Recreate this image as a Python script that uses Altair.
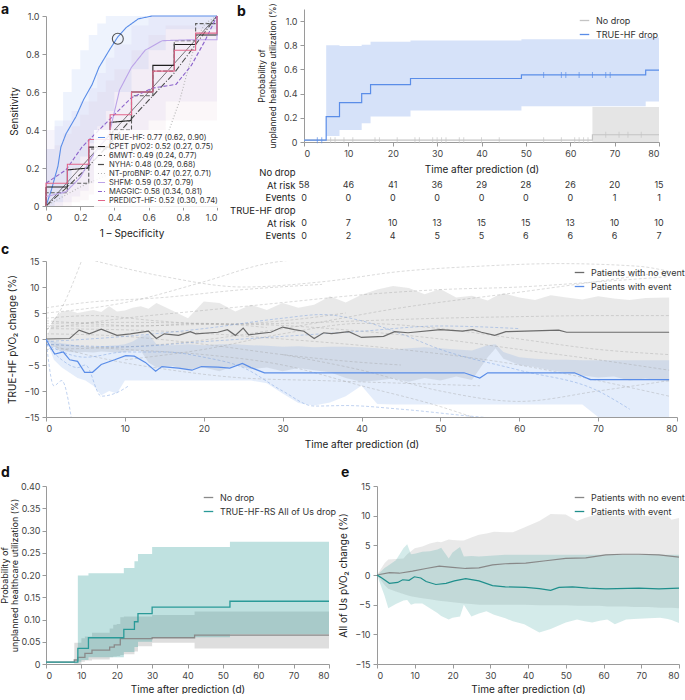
import altair as alt
import pandas as pd

FONT = "Inter"
INK = "#333333"
BLUE = "#5a8de8"
TEAL = "#2a9a98"

# ---------------- a: ROC curves ----------------
roc_names = ["TRUE-HF", "CPET pVO2", "6MWT", "NYHA", "NT-proBNP", "SHFM", "MAGGIC", "PREDICT-HF"]
roc_auc = [0.77, 0.52, 0.49, 0.48, 0.47, 0.59, 0.58, 0.52]
roc_lo = [0.62, 0.27, 0.24, 0.29, 0.27, 0.37, 0.34, 0.30]
roc_hi = [0.90, 0.75, 0.77, 0.68, 0.71, 0.79, 0.81, 0.74]
roc_colors = ["#5a8de8", "#1f1f1f", "#5c5c5c", "#4a4a4a", "#b4b4b4", "#bba3e8", "#8c64cc", "#e2668a"]
roc_dashes = [[1, 0], [1, 0], [4, 2], [6, 2, 1, 2], [1, 2], [1, 0], [4, 2], [1, 0]]

fpr_truehf = [0, 0.03, 0.07, 0.087, 0.117, 0.175, 0.22, 0.27, 0.31, 0.37, 0.42, 0.47, 0.54, 0.62, 1.0]
tpr_truehf = [0, 0.08, 0.21, 0.31, 0.38, 0.47, 0.56, 0.64, 0.73, 0.82, 0.89, 0.94, 0.985, 1.0, 1.0]
fpr_cpet = [0, 0, 0.125, 0.125, 0.25, 0.25, 0.375, 0.375, 0.5, 0.5, 0.625, 0.625, 0.75, 0.75, 0.875, 0.875, 1, 1]
tpr_cpet = [0, 0.10, 0.10, 0.19, 0.20, 0.31, 0.31, 0.44, 0.45, 0.60, 0.60, 0.74, 0.74, 0.85, 0.85, 0.90, 0.90, 1.0]
fpr_6mwt = [0, 0, 0.125, 0.125, 0.25, 0.25, 0.39, 0.39, 0.5, 0.5, 0.625, 0.625, 0.75, 0.75, 0.875, 0.875, 1, 1]
tpr_6mwt = [0, 0.07, 0.07, 0.12, 0.12, 0.30, 0.30, 0.40, 0.40, 0.58, 0.58, 0.71, 0.71, 0.87, 0.87, 0.96, 0.96, 1.0]
fpr_nyha = [0, 0.125, 0.25, 0.375, 0.5, 0.625, 0.75, 0.875, 1]
tpr_nyha = [0, 0.10, 0.21, 0.33, 0.46, 0.58, 0.70, 0.85, 1.0]
fpr_ntprobnp = [0, 0.2, 0.4, 0.55, 0.65, 0.72, 0.78, 0.84, 0.88, 0.93, 1]
tpr_ntprobnp = [0, 0.10, 0.18, 0.25, 0.30, 0.40, 0.55, 0.75, 0.88, 0.96, 1]
fpr_shfm = [0, 0.05, 0.117, 0.2, 0.27, 0.37, 0.43, 0.5, 0.58, 0.68, 0.85, 1.0, 1.0]
tpr_shfm = [0.05, 0.06, 0.075, 0.15, 0.26, 0.38, 0.61, 0.73, 0.82, 0.87, 0.875, 0.875, 1.0]
fpr_maggic = [0, 0.117, 0.21, 0.31, 0.41, 0.5, 0.62, 0.76, 0.85, 0.93, 1.0]
tpr_maggic = [0.12, 0.19, 0.31, 0.40, 0.49, 0.57, 0.62, 0.64, 0.74, 0.87, 1.0]
fpr_predict = [0, 0, 0.125, 0.125, 0.25, 0.25, 0.375, 0.375, 0.5, 0.5, 0.625, 0.625, 0.75, 0.75, 0.875, 0.875, 1, 1]
tpr_predict = [0, 0.12, 0.12, 0.22, 0.22, 0.35, 0.35, 0.48, 0.48, 0.60, 0.60, 0.71, 0.71, 0.82, 0.82, 0.91, 0.91, 1.0]

roc_fpr = [fpr_truehf, fpr_cpet, fpr_6mwt, fpr_nyha, fpr_ntprobnp, fpr_shfm, fpr_maggic, fpr_predict]
roc_tpr = [tpr_truehf, tpr_cpet, tpr_6mwt, tpr_nyha, tpr_ntprobnp, tpr_shfm, tpr_maggic, tpr_predict]

# confidence bands behind the curves
band_x = [0, 0.05, 0.1, 0.15, 0.2, 0.25, 0.3, 0.35, 0.4, 0.5, 0.6, 0.7, 1.0]
band_truehf_lo = [0, 0.02, 0.10, 0.20, 0.26, 0.33, 0.42, 0.50, 0.60, 0.72, 0.82, 0.93, 1.0]
band_truehf_hi = [0.30, 0.45, 0.60, 0.72, 0.82, 0.90, 0.96, 1.0, 1.0, 1.0, 1.0, 1.0, 1.0]
band_purple_lo = [0, 0.0, 0.02, 0.05, 0.08, 0.12, 0.15, 0.2, 0.25, 0.35, 0.45, 0.55, 1.0]
band_purple_hi = [0.40, 0.42, 0.45, 0.50, 0.55, 0.62, 0.70, 0.78, 0.85, 0.95, 1.0, 1.0, 1.0]
band_pink_lo = [0, 0, 0, 0.02, 0.03, 0.06, 0.10, 0.12, 0.15, 0.25, 0.35, 0.45, 1.0]
band_pink_hi = [0.30, 0.32, 0.38, 0.42, 0.48, 0.55, 0.60, 0.66, 0.72, 0.82, 0.90, 0.95, 1.0]

# ---------------- b: Kaplan-Meier, TRUE-HF ----------------
b_drop_t = [0, 5, 8, 13, 15, 24, 49, 77, 80]
b_drop_p = [0.015, 0.21, 0.325, 0.40, 0.475, 0.525, 0.555, 0.595, 0.595]
b_drop_band_t = [5, 8, 13, 15, 24, 49, 77, 80]
b_drop_band_lo = [0.05, 0.10, 0.155, 0.21, 0.26, 0.295, 0.335, 0.335]
b_drop_band_hi = [0.80, 0.795, 0.805, 0.83, 0.84, 0.85, 0.865, 0.865]
b_nodrop_t = [0, 65, 80]
b_nodrop_p = [0.015, 0.06, 0.06]
b_nodrop_band_t = [65, 80]
b_nodrop_band_lo = [0.0, 0.0]
b_nodrop_band_hi = [0.29, 0.29]
b_drop_censor = [3, 4, 54, 58, 59, 62, 65, 68, 69]
b_nodrop_censor_low = [6, 7, 9, 11, 16, 17, 21, 25, 26, 29, 30, 31, 32, 35, 36, 40, 44, 54, 58, 61, 62, 63, 64]
b_nodrop_censor_high = [68, 71, 73, 76]

risk_days = [0, 10, 20, 30, 40, 50, 60, 70, 80]
nodrop_at_risk = [58, 46, 41, 36, 29, 28, 26, 20, 15]
nodrop_events = [0, 0, 0, 0, 0, 0, 0, 1, 1]
drop_at_risk = [0, 7, 10, 13, 15, 15, 13, 10, 10]
drop_events = [0, 2, 4, 5, 5, 6, 6, 6, 7]
risk_rows = ["No drop", "At risk", "Events", "TRUE-HF drop", "At risk ", "Events "]

# ---------------- c: TRUE-HF pVO2 change ----------------
c_noevent_day = [0, 3, 4.2, 5.5, 7, 9, 10.7, 13, 14, 15, 16.8, 18.3, 19, 21.8, 23, 24, 25, 25.7, 28.5, 30,
                 31.5, 32.7, 34, 35.2, 36.2, 38.4, 40, 42.8, 44.2, 45.9, 50, 52.8, 54.1, 55.2, 56.9, 58.3,
                 65, 66, 79]
c_noevent_mean = [0, 0.1, 1.7, 1.0, 1.9, 0.7, 1.0, 1.5, 0.1, 1.0, 0.7, 1.4, 1.0, 1.3, 1.8, 0.7, 2.1, 0.8, 1.3,
                  2.3, 1.8, 1.5, 0.1, 1.2, 1.05, 1.4, 0.3, 0.5, 1.4, 1.2, 1.8, 1.5, 1.8, 1.3, 0.7, 1.4,
                  1.7, 1.3, 1.3]
c_event_day = [0, 0.5, 1.1, 2.2, 3, 4, 4.9, 5.9, 7, 8.7, 10.1, 11.2, 12.6, 13.9, 14.7, 16.8, 18.5, 19.7,
               21.8, 23.3, 24.9, 26, 27.7, 53, 55, 56, 67, 69, 79]
c_event_mean = [0, -1.4, -2.9, -2.5, -4.0, -4.3, -6.4, -6.4, -4.9, -4.0, -3.2, -3.3, -4.5, -6.2, -5.3, -5.6,
                -6.0, -5.3, -5.4, -5.6, -4.7, -5.5, -6.5, -6.5, -7.5, -6.5, -6.5, -7.8, -7.8]

c_band_day = [0, 1, 2, 3, 4, 5, 6, 7, 8, 9, 10, 11, 12, 13, 14, 16, 18, 20, 22, 24, 26, 28, 30, 32, 34, 36,
              38, 40, 42, 44, 46, 48, 50, 52, 54, 56, 57, 58, 60, 62, 64, 66, 68, 70, 72, 74, 76, 79]
c_noevent_hi = [0, 4.0, 5.3, 5.5, 5.0, 5.3, 5.6, 5.2, 6.3, 5.3, 5.5, 6.0, 6.3, 5.8, 6.9, 5.5, 4.0, 7.2, 6.9,
                5.3, 6.6, 5.6, 6.9, 6.0, 6.6, 8.2, 7.0, 8.5, 9.5, 10.2, 9.8, 8.6, 9.6, 8.0, 8.3, 7.4, 8.2,
                8.8, 8.0, 7.5, 8.4, 8.0, 7.6, 8.2, 7.8, 7.5, 7.9, 8.0]
c_noevent_lo = [0, -1.5, -2.3, -2.5, -2.6, -2.5, -2.6, -2.4, -2.5, -2.6, -2.5, -2.3, -2.2, -4.5, -5.5, -5.2,
                -6.0, -5.5, -6.2, -5.0, -5.8, -5.5, -6.2, -5.6, -6.0, -6.4, -7.5, -8.2, -8.0, -7.6, -8.2,
                -7.5, -8.0, -7.2, -7.9, -3.5, -1.8, -3.8, -5.0, -5.4, -6.0, -6.5, -7.0, -7.4, -7.2, -8.0,
                -7.6, -8.2]
c_event_hi = [0, -0.5, -0.8, -1.0, -1.2, -1.5, -1.5, -1.4, -1.3, -1.2, -1.0, -0.5, 0.5, 0.9, -1.0, -1.2,
              -1.0, -1.2, -1.0, -1.0, -1.2, -1.3, -1.5, -1.4, -1.6, -1.5, -1.5, -1.6, -1.8, -2.0, -1.8,
              -1.6, -1.8, -2.0, -2.2, -1.2, -1.0, -2.5, -3.5, -3.8, -4.0, -4.0, -4.1, -4.1, -4.1, -4.1,
              -4.1, -4.1]
c_event_lo = [0, -4.0, -5.5, -6.5, -7.5, -8.0, -9.0, -10.8, -10.0, -10.5, -8.0, -8.0, -8.0, -8.0, -8.0, -8.0,
              -8.0, -8.0, -8.0, -8.0, -8.0, -8.5, -10.5, -12.3, -12.8, -12.2, -11.0, -9.0, -12.5, -12.6,
              -12.6, -12.6, -12.6, -12.6, -12.6, -12.6, -12.6, -12.6, -12.6, -12.6, -12.6, -12.6, -12.6,
              -15.0, -15.0, -15.0, -15.0, -15.0]

# individual patient trajectories (day, change)
c_traj_noevent = [
    ([0, 2, 4.5], [1.5, 6, 15]),
    ([0, 10, 20, 28, 35, 45], [5, 7, 11, 14.5, 15.5, 15.5]),
    ([0, 15, 30, 45, 60, 79], [-2, -1, 2, 6, 9, 13]),
    ([0, 10, 20, 30, 40, 50, 60, 70, 79], [3, 3.2, 3, 2.6, 1.5, 0, -2, -4, -6]),
    ([0, 10, 20, 30, 40, 50, 60, 70, 79], [2.5, 2.5, 2.8, 3, 3.5, 4, 4.3, 4.5, 4.5]),
    ([0, 10, 20, 30, 40, 45], [1, 0.5, -1, -3, -4.5, -5]),
    ([0, 8, 16, 25, 35, 45, 55], [-1, -4, -6, -7.5, -8, -8.5, -9]),
    ([0, 10, 20, 30, 40, 50, 55], [-1, -2, -3, -5, -9, -13, -15.5]),
    ([0, 5, 15, 25, 35], [6, 7, 8, 9.5, 10.5]),
    ([5, 15, 25, 35, 45, 55, 65, 75, 79], [15.5, 12, 10, 11, 13, 14, 14.5, 14, 13]),
    ([0, 10, 20, 30, 40, 50, 60, 70, 79], [2, 4, 5.5, 7, 8.5, 9.5, 10, 11, 12]),
    ([0, 15, 30, 45, 60, 70, 79], [2, 1.5, 0, -2, -5, -8, -11]),
    ([30, 40, 50, 60, 70, 79], [-3, -6, -10, -12, -10, -8]),
    ([0, 5, 12, 20, 28], [3.5, 3, 2.5, 3, 2.2]),
    ([0, 6, 14, 22, 30, 38], [4, 4.5, 3.5, 2.8, 3.5, 5]),
    ([10, 20, 30, 40, 50, 60, 70, 79], [-4, -2, 1, 3, 2, 0, -2, -3]),
]
c_traj_event = [
    ([0, 10, 20, 30, 35, 40, 45, 50, 60, 70, 74], [-0.5, 0.5, 2, 4, 4.7, 3.5, 1, -2, -6, -10, -13.5]),
    ([0, 5, 10, 15, 20, 25, 30, 34, 38, 45, 55, 65, 79], [-1, -3.5, -2.5, -2.5, -3.5, -5.5, -10, -12.9, -12.8, -13.5, -15, -16, -17]),
    ([0, 1, 2, 3.3], [0, -9, -8, -16]),
    ([0, 2, 4, 5, 7, 9, 10.5], [-1, -4, -5.5, -5, -11, -10.3, -9]),
    ([0, 10, 20, 30, 40, 50, 60], [-1, -1.5, -0.5, 0.5, 1.5, 2.5, 2]),
]

# ---------------- d: Kaplan-Meier, All of Us ----------------
d_drop_t = [0, 9, 12, 22, 25, 26, 30, 52, 80]
d_drop_p = [0.004, 0.035, 0.059, 0.078, 0.095, 0.113, 0.128, 0.141, 0.141]
d_drop_band_t = [9, 10, 12, 22, 25, 26, 30, 52, 80]
d_drop_band_lo = [0.005, 0.009, 0.015, 0.027, 0.038, 0.05, 0.06, 0.067, 0.067]
d_drop_band_hi = [0.199, 0.199, 0.204, 0.216, 0.231, 0.247, 0.263, 0.275, 0.275]
d_nodrop_t = [0, 8, 9, 11, 13, 18, 19.3, 21, 30, 42, 80]
d_nodrop_p = [0.004, 0.009, 0.015, 0.024, 0.031, 0.038, 0.043, 0.057, 0.059, 0.065, 0.065]
d_nodrop_band_t = [8, 10, 11, 13, 18, 19, 20, 21, 22, 25, 26, 30, 42, 80]
d_nodrop_band_lo = [0.0, 0.005, 0.008, 0.01, 0.015, 0.017, 0.018, 0.02, 0.022, 0.028, 0.04, 0.048, 0.035, 0.035]
d_nodrop_band_hi = [0.048, 0.058, 0.062, 0.07, 0.08, 0.088, 0.09, 0.105, 0.107, 0.107, 0.107, 0.11, 0.118, 0.118]

# ---------------- e: All of Us pVO2 change ----------------
e_noevent_day = [0, 3.3, 5.9, 9.4, 13, 16.5, 20, 23.5, 27, 30.6, 34, 39.4, 44.7, 50, 55.3, 60.6, 65, 69.4, 74.7, 80]
e_noevent_mean = [0, 0.4, 0.3, 0.65, 1.1, 1.5, 1.3, 1.1, 1.2, 1.7, 1.9, 2.0, 2.4, 2.8, 2.9, 3.4, 3.5, 3.5, 3.4, 3.0]
e_event_day = [0, 1, 3.3, 5.5, 6.8, 8.5, 9.9, 11.6, 13, 15.6, 18.3, 20.5, 23.5, 27, 30.6, 34, 39.4, 43, 46,
               48.2, 51.8, 56, 60.6, 69.4, 74.7, 80]
e_event_mean = [0, -0.4, -1.4, -1.25, -0.8, -0.9, -0.3, -0.5, -1.1, -1.6, -1.4, -1.0, -0.6, -1.0, -1.8, -2.0,
                -2.1, -2.3, -2.6, -2.1, -2.0, -2.2, -2.35, -2.2, -2.35, -2.2]
e_band_day = [0, 2, 3, 5, 7, 8, 9, 10, 12, 14, 16, 17, 19, 20, 22, 23, 25, 27, 29, 31, 34, 36, 39, 43, 46,
              50, 53, 55, 57, 59, 61, 63, 66, 68, 72, 75, 77, 78, 80]
e_noevent_hi = [0, 2.0, 2.6, 2.7, 2.8, 3.5, 4.0, 4.5, 4.8, 5.3, 5.6, 5.5, 6.0, 5.9, 5.8, 5.8, 6.3, 6.8, 7.0,
                7.3, 7.2, 7.2, 8.0, 9.1, 10.3, 10.2, 9.1, 9.6, 10.0, 10.4, 10.1, 9.9, 10.1, 10.2, 9.9, 10.2,
                10.0, 9.3, 9.6]
e_noevent_lo = [0, -1.7, -2.3, -2.8, -3.2, -3.4, -3.6, -3.7, -3.9, -4.1, -4.3, -4.4, -4.5, -4.6, -4.7, -4.8,
                -4.9, -5.0, -5.0, -5.0, -5.0, -5.0, -5.0, -5.1, -5.1, -5.1, -5.2, -5.2, -5.2, -5.2, -5.3,
                -5.3, -5.3, -5.4, -5.4, -5.5, -5.5, -5.5, -5.6]
e_event_hi = [0, 1.2, 1.6, 2.5, 4.5, 5.2, 3.5, 3.6, 3.9, 4.0, 4.3, 4.6, 2.8, 3.8, 4.7, 3.1, 3.2, 3.1, 3.2,
              3.3, 3.4, 3.4, 3.4, 3.4, 3.4, 3.4, 3.4, 3.4, 3.4, 3.4, 3.4, 3.4, 3.4, 3.4, 3.4, 3.4, 3.4,
              3.4, 3.4]
e_event_lo = [0, -3.5, -5.6, -4.9, -4.3, -4.2, -5.0, -4.8, -4.8, -5.6, -6.4, -6.9, -7.5, -7.2, -7.0, -5.0,
              -7.0, -6.5, -6.1, -6.7, -7.3, -7.8, -8.3, -9.7, -9.1, -8.0, -7.5, -7.8, -8.0, -7.7, -7.5,
              -8.3, -7.5, -7.4, -7.3, -7.2, -7.4, -7.6, -8.1]


# ---------------- helpers ----------------
def zero_fmt(fmt):
    return f"datum.value == 0 ? '0' : format(datum.value, '{fmt}')"


def axis(values, **kw):
    # every listed tick is kept: tickCount must not be smaller than the list
    return alt.Axis(values=values, tickCount=len(values), labelOverlap=False, **kw)


def letter(t, dx, dy):
    return alt.TitleParams(text=t, anchor="start", frame="group", dx=dx, dy=dy, offset=2,
                           fontSize=14, fontWeight="bold", font=FONT, color="#111111")


def line_legend(x, y):
    return alt.Legend(title=None, orient="none", legendX=x, legendY=y, symbolType="stroke",
                      symbolSize=90, symbolStrokeWidth=1.3, labelFont=FONT, labelFontSize=9,
                      labelColor=INK, rowPadding=3, labelOffset=6, padding=0)


def band(t, lo, hi, color, opacity, interp="step-after"):
    df = pd.DataFrame({"t": t, "lo": lo, "hi": hi})
    return alt.Chart(df).mark_area(interpolate=interp, color=color, opacity=opacity).encode(
        x="t:Q", y="lo:Q", y2="hi:Q")


time_ticks = [0, 10, 20, 30, 40, 50, 60, 70, 80]
x_time = alt.X("t:Q", scale=alt.Scale(domain=[0, 80], nice=False),
               axis=axis(time_ticks, title="Time after prediction (d)"))
x_time_low = alt.X("t:Q", scale=alt.Scale(domain=[0, 80], nice=False),
                   axis=axis(time_ticks, title="Time after prediction (d)", titlePadding=4))
km_title = ["Probability of", "unplanned healthcare utilization (%)"]

# ---------------- panel a ----------------
roc_labels = [f"{n}: {a:.2f} ({l:.2f}, {h:.2f})" for n, a, l, h in zip(roc_names, roc_auc, roc_lo, roc_hi)]
roc_rows = []
for lab, xs, ys in zip(roc_labels, roc_fpr, roc_tpr):
    for i, (fx, fy) in enumerate(zip(xs, ys)):
        roc_rows.append({"model": lab, "idx": i, "fpr": fx, "tpr": fy})
roc_df = pd.DataFrame(roc_rows)

A_H = 197   # leaf height; the unit square sits 7 px below the top edge
unit_ticks = [0, 0.2, 0.4, 0.6, 0.8, 1.0]
ax_fpr = alt.X("fpr:Q", scale=alt.Scale(domain=[0, 1], nice=False),
               axis=axis(unit_ticks, labelExpr=zero_fmt(".1f"), title="1 – Specificity"))
ax_tpr = alt.Y("lo:Q", scale=alt.Scale(domain=[0, 1], nice=False, range=[A_H, 7]),
               axis=axis(unit_ticks, labelExpr=zero_fmt(".1f"), title="Sensitivity"))

legend_a = alt.Legend(title=None, orient="none", legendX=48, legendY=121, symbolType="stroke",
                      symbolSize=50, symbolStrokeWidth=1.2, labelFont=FONT, labelFontSize=7.6,
                      labelColor=INK, rowPadding=-1.2, labelOffset=3, padding=3, labelLimit=220,
                      fillColor="rgba(255,255,255,0.85)")

a_bands = [
    alt.Chart(pd.DataFrame({"fpr": band_x, "lo": lo, "hi": hi})).mark_area(
        interpolate="step-after", color=col, opacity=op).encode(x=ax_fpr, y=ax_tpr, y2="hi:Q")
    for lo, hi, col, op in [
        (band_truehf_lo, band_truehf_hi, BLUE, 0.10),
        (band_purple_lo, band_purple_hi, "#9c7fd6", 0.08),
        (band_pink_lo, band_pink_hi, "#c99aad", 0.08),
    ]
]
a_diag = alt.Chart(pd.DataFrame({"fpr": [0, 1], "lo": [0, 1]})).mark_line(
    color="#222222", strokeWidth=0.6).encode(x="fpr:Q", y="lo:Q")
a_curves = alt.Chart(roc_df).mark_line(strokeWidth=1.1).encode(
    x="fpr:Q", y=alt.Y("tpr:Q"), order="idx:Q",
    color=alt.Color("model:N", scale=alt.Scale(domain=roc_labels, range=roc_colors), legend=legend_a),
    strokeDash=alt.StrokeDash("model:N", scale=alt.Scale(domain=roc_labels, range=roc_dashes), legend=legend_a),
)
a_mark = alt.Chart(pd.DataFrame({"fpr": [0.42], "tpr": [0.88]})).mark_point(
    shape="circle", filled=False, size=120, color="#111111", strokeWidth=1.1).encode(x="fpr:Q", y="tpr:Q")

panel_a = alt.layer(*a_bands, a_diag, a_curves, a_mark).properties(
    width=171, height=A_H, title=letter("a", -45, 10))

# ---------------- panel b ----------------
b_lines = pd.concat([
    pd.DataFrame({"t": b_nodrop_t, "p": b_nodrop_p, "group": "No drop"}),
    pd.DataFrame({"t": b_drop_t, "p": b_drop_p, "group": "TRUE-HF drop"}),
])
b_y = alt.Y("lo:Q", scale=alt.Scale(domain=[0, 1.1], nice=False),
            axis=axis(unit_ticks, labelExpr=zero_fmt(".1f"), title=km_title,
                      titleFontSize=8.5, titleLineHeight=10.5))


def censor(ts, level, color):
    df = pd.DataFrame({"t": ts, "p": [level] * len(ts)})
    return alt.Chart(df).mark_tick(orient="vertical", size=6, thickness=1, color=color).encode(
        x="t:Q", y="p:Q")


b_curve = alt.Chart(b_lines).mark_line(interpolate="step-after", strokeWidth=1.2).encode(
    x="t:Q", y="p:Q",
    color=alt.Color("group:N", scale=alt.Scale(domain=["No drop", "TRUE-HF drop"], range=["#c4c4c4", BLUE]),
                    legend=line_legend(275, 6)),
)
panel_b = alt.layer(
    band(b_nodrop_band_t, b_nodrop_band_lo, b_nodrop_band_hi, "#a8a8a8", 0.3).encode(x=x_time, y=b_y),
    band(b_drop_band_t, b_drop_band_lo, b_drop_band_hi, BLUE, 0.25),
    b_curve,
    censor(b_nodrop_censor_low, b_nodrop_p[0], "#c4c4c4"),
    censor(b_nodrop_censor_high, b_nodrop_p[1], "#c4c4c4"),
    censor(b_drop_censor[:2], b_drop_p[0], BLUE),
    censor(b_drop_censor[2:], b_drop_p[6], BLUE),
).properties(width=355, height=133, title=letter("b", -67, 18))

risk_records = []
for grp_rows, at_risk, events in [(("At risk", "Events"), nodrop_at_risk, nodrop_events),
                                  (("At risk ", "Events "), drop_at_risk, drop_events)]:
    for d, r, e in zip(risk_days, at_risk, events):
        risk_records.append({"t": d, "row": grp_rows[0], "n": r})
        risk_records.append({"t": d, "row": grp_rows[1], "n": e})
risk_df = pd.DataFrame(risk_records)
risk_table = alt.Chart(risk_df).mark_text(font=FONT, fontSize=9, color=INK).encode(
    x=alt.X("t:Q", scale=alt.Scale(domain=[0, 80], nice=False), axis=None),
    y=alt.Y("row:N", scale=alt.Scale(domain=risk_rows),
            axis=alt.Axis(title=None, domain=False, ticks=False, labelPadding=9, labelFontSize=9.5,
                          labelColor="#222222")),
    text="n:Q",
).properties(width=355, height=76)

# ---------------- panel c ----------------
pct_ticks = [-15, -10, -5, 0, 5, 10, 15]
c_y = alt.Y("g_lo:Q", scale=alt.Scale(domain=[-15, 15], nice=False),
            axis=axis(pct_ticks, title="TRUE-HF pVO₂ change (%)"))


def traj_layer(trajs, color, opacity):
    rows = []
    for k, (ts, vs) in enumerate(trajs):
        for t, v in zip(ts, vs):
            rows.append({"id": k, "t": t, "v": v})
    return alt.Chart(pd.DataFrame(rows)).mark_line(
        interpolate="monotone", strokeDash=[3, 2], strokeWidth=0.8, color=color, opacity=opacity, clip=True
    ).encode(x="t:Q", y="v:Q", detail="id:N")


c_means = pd.concat([
    pd.DataFrame({"t": c_noevent_day, "v": c_noevent_mean, "group": "Patients with no event"}),
    pd.DataFrame({"t": c_event_day, "v": c_event_mean, "group": "Patients with event"}),
])
c_band_df = pd.DataFrame({"t": c_band_day, "g_lo": c_noevent_lo, "g_hi": c_noevent_hi,
                          "b_lo": c_event_lo, "b_hi": c_event_hi})
panel_c = alt.layer(
    alt.Chart(c_band_df).mark_area(color="#b0b0b0", opacity=0.28, clip=True).encode(x=x_time, y=c_y, y2="g_hi:Q"),
    alt.Chart(c_band_df).mark_area(color=BLUE, opacity=0.16, clip=True).encode(x="t:Q", y="b_lo:Q", y2="b_hi:Q"),
    traj_layer(c_traj_noevent, "#9a9a9a", 0.45),
    traj_layer(c_traj_event, "#6f97dc", 0.55),
    alt.Chart(c_means).mark_line(strokeWidth=1.2, clip=True).encode(
        x="t:Q", y="v:Q",
        color=alt.Color("group:N", scale=alt.Scale(domain=["Patients with no event", "Patients with event"],
                                                   range=["#6b6b6b", BLUE]),
                        legend=line_legend(528, 6)),
    ),
).properties(width=631, height=156, title=letter("c", -45, 2))

# ---------------- panel d ----------------
D_H = 178
d_lines = pd.concat([
    pd.DataFrame({"t": d_nodrop_t, "p": d_nodrop_p, "group": "No drop"}),
    pd.DataFrame({"t": d_drop_t, "p": d_drop_p, "group": "TRUE-HF-RS All of Us drop"}),
])
d_y = alt.Y("lo:Q", scale=alt.Scale(domain=[0, 0.4], nice=False),
            axis=axis([0, 0.05, 0.1, 0.15, 0.2, 0.25, 0.3, 0.35, 0.4],
                      labelExpr=zero_fmt(".2f"), title=km_title, titleFontSize=9, titleLineHeight=10,
                      titlePadding=1, labelPadding=2))
panel_d = alt.layer(
    band(d_nodrop_band_t, d_nodrop_band_lo, d_nodrop_band_hi, "#a0a0a0", 0.35).encode(x=x_time_low, y=d_y),
    band(d_drop_band_t, d_drop_band_lo, d_drop_band_hi, TEAL, 0.3),
    alt.Chart(d_lines).mark_line(interpolate="step-after", strokeWidth=1.3).encode(
        x="t:Q", y="p:Q",
        color=alt.Color("group:N", scale=alt.Scale(domain=["No drop", "TRUE-HF-RS All of Us drop"],
                                                   range=["#8a8a8a", TEAL]),
                        legend=line_legend(157, 6)),
    ),
).properties(width=283, height=D_H, title=letter("d", -45, 0))

# ---------------- panel e ----------------
e_y = alt.Y("g_lo:Q", scale=alt.Scale(domain=[-15, 15], nice=False),
            axis=axis(pct_ticks, title="All of Us pVO₂ change (%)"))
e_means = pd.concat([
    pd.DataFrame({"t": e_noevent_day, "v": e_noevent_mean, "group": "Patients with no event"}),
    pd.DataFrame({"t": e_event_day, "v": e_event_mean, "group": "Patients with event"}),
])
e_band_df = pd.DataFrame({"t": e_band_day, "g_lo": e_noevent_lo, "g_hi": e_noevent_hi,
                          "b_lo": e_event_lo, "b_hi": e_event_hi})
panel_e = alt.layer(
    alt.Chart(e_band_df).mark_area(color="#b0b0b0", opacity=0.28).encode(x=x_time_low, y=e_y, y2="g_hi:Q"),
    alt.Chart(e_band_df).mark_area(color=TEAL, opacity=0.2).encode(x="t:Q", y="b_lo:Q", y2="b_hi:Q"),
    alt.Chart(e_means).mark_line(strokeWidth=1.2).encode(
        x="t:Q", y="v:Q",
        color=alt.Color("group:N", scale=alt.Scale(domain=["Patients with no event", "Patients with event"],
                                                   range=["#888888", "#1f8f8c"]),
                        legend=line_legend(197, 6)),
    ),
).properties(width=302, height=D_H, title=letter("e", -36, 0))

# ---------------- layout ----------------
indep = dict(color="independent", strokeDash="independent")

col_b = alt.vconcat(panel_b, risk_table, spacing=24, bounds="flush").resolve_scale(**indep)
row1 = alt.hconcat(panel_a, col_b, spacing=8).resolve_scale(**indep)
top = alt.vconcat(row1, panel_c, spacing=1).resolve_scale(**indep)
row3 = alt.hconcat(panel_d, panel_e, spacing=48, bounds="flush").resolve_scale(**indep)

chart = alt.vconcat(top, row3, spacing=17).resolve_scale(**indep)
chart = chart.properties(padding={"left": 0, "top": 3, "right": 0, "bottom": 0})
chart = chart.configure_view(stroke=None).configure_axis(
    grid=False, labelFont=FONT, labelFontSize=9, labelColor="#444444", titleFont=FONT,
    titleFontSize=10, titleFontWeight="normal", titleColor="#222222", domainColor="#9a9a9a",
    tickColor="#9a9a9a", tickSize=4, labelPadding=3, titlePadding=6,
).configure_legend(labelFont=FONT)

chart.save("out.html", embed_options={"renderer": "svg", "actions": False})
